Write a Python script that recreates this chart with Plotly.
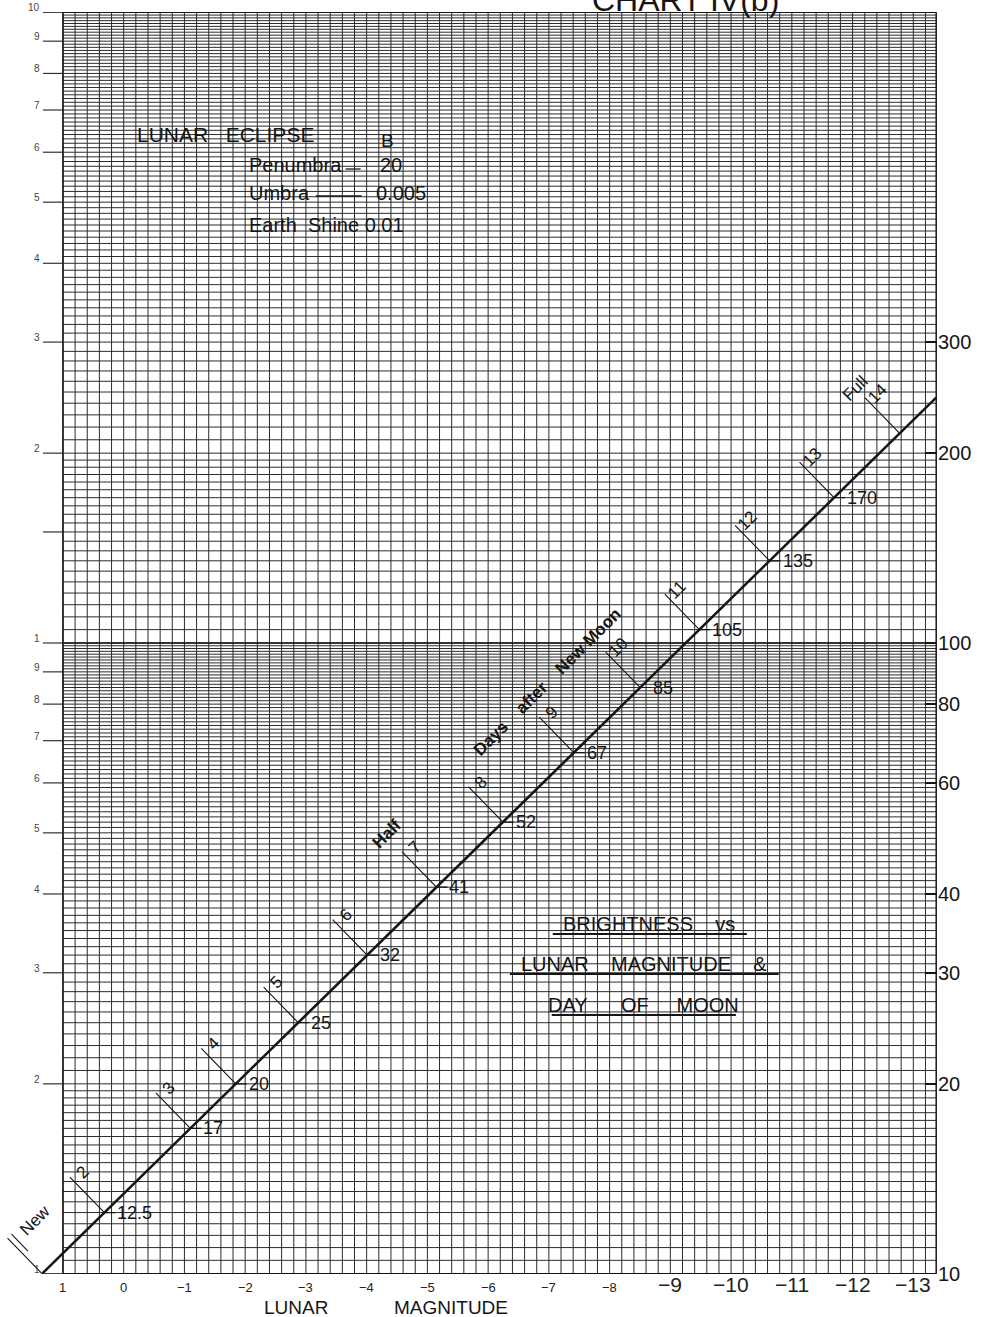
import numpy as np
import plotly.graph_objects as go

# ---------------- data ----------------
# straight brightness line: lunar magnitude vs brightness (log scale)
line_magnitude = [1.344, -13.377]
line_brightness = [10, 245]

# days after new moon and the brightness reached on each day
day_numbers = ["2", "3", "4", "5", "6", "7", "8", "9", "10", "11", "12", "13", "14"]
day_brightness = [12.5, 17, 20, 25, 32, 41, 52, 67, 85, 105, 135, 170, 215]
day_brightness_labels = ["12.5", "17", "20", "25", "32", "41", "52", "67", "85", "105", "135", "170", ""]
new_moon_brightness = 10

# right-hand brightness scale
right_tick_values = [10, 20, 30, 40, 60, 80, 100, 200, 300]
right_tick_text = ["10", "20", "30", "40", "60", "80", "100", "200", "300"]

# left-hand two-cycle log scale
left_tick_values = [1000, 900, 800, 700, 600, 500, 400, 300, 200, 150, 100,
                    90, 80, 70, 60, 50, 40, 30, 20, 10]
left_tick_text = ["10", "9", "8", "7", "6", "5", "4", "3", "2", "", "1",
                  "9", "8", "7", "6", "5", "4", "3", "2", "1"]

# lunar magnitude scale
mag_tick_values = [1, 0, -1, -2, -3, -4, -5, -6, -7, -8, -9, -10, -11, -12, -13]
mag_tick_text = ["1", "0", "\u22121", "\u22122", "\u22123", "\u22124", "\u22125", "\u22126",
                 "\u22127", "\u22128", "\u22129", "\u221210", "\u221211", "\u221212", "\u221213"]

# ---------------- geometry ----------------
W, H = 983, 1317
PL, PR, PT, PB = 42, 941, 12, 1274          # plot area in pixels
X_RANGE = [1.345, -13.39]
Y_RANGE = [0.9995, 3.0005]
GRID_LEFT, GRID_RIGHT = 1.0, -13.377
GRID_BOTTOM, GRID_TOP = 10, 1000

FONT = "Liberation Sans, Arial, Helvetica, sans-serif"
INK = "#151515"


def px(x):
    return (x - PL) / (PR - PL)


def py(y):
    return (PB - y) / (PB - PT)


lb0, lb1 = np.log10(line_brightness)


def mag_on_line(b):
    t = (np.log10(b) - lb0) / (lb1 - lb0)
    return line_magnitude[0] + t * (line_magnitude[1] - line_magnitude[0])


fig = go.Figure()

# ---------------- graph paper ----------------
h_lines = np.concatenate([np.arange(10, 20, 0.5), np.arange(20, 100, 1),
                          np.arange(100, 200, 5), np.arange(200, 1000, 10)])
v_lines = np.round(np.arange(GRID_LEFT, -13.3, -0.2), 2)

gx, gy = [], []
for v in h_lines:
    gx += [GRID_LEFT, GRID_RIGHT, None]
    gy += [v, v, None]
for m in v_lines:
    gx += [m, m, None]
    gy += [GRID_BOTTOM, GRID_TOP, None]
fig.add_trace(go.Scatter(x=gx, y=gy, mode="lines", line=dict(color="#2b2b2b", width=1),
                         hoverinfo="skip", showlegend=False))

# frame and the decade line
bx = [GRID_LEFT, GRID_LEFT, None, GRID_LEFT, GRID_RIGHT, None, GRID_RIGHT, GRID_RIGHT, None,
      GRID_LEFT, GRID_RIGHT, None, GRID_LEFT, GRID_RIGHT]
by = [GRID_BOTTOM, GRID_TOP, None, GRID_TOP, GRID_TOP, None, GRID_BOTTOM, GRID_TOP, None,
      GRID_BOTTOM, GRID_BOTTOM, None, 100, 100]
fig.add_trace(go.Scatter(x=bx, y=by, mode="lines", line=dict(color=INK, width=1.5),
                         hoverinfo="skip", showlegend=False))

# left scale tick strokes
lx, ly = [], []
for v in left_tick_values:
    lx += [1.33, GRID_LEFT, None]
    ly += [v, v, None]
fig.add_trace(go.Scatter(x=lx, y=ly, mode="lines", line=dict(color="#333", width=1.2),
                         hoverinfo="skip", showlegend=False))

# brightness line
fig.add_trace(go.Scatter(x=line_magnitude, y=line_brightness, mode="lines",
                         line=dict(color=INK, width=2.6), hoverinfo="skip", showlegend=False))

ann = []

# day marks: perpendicular stroke, day number and brightness value
TICK_AX, TICK_AY = -36, -37
for d, b, lab in zip(day_numbers, day_brightness, day_brightness_labels):
    m = mag_on_line(b)
    yl = float(np.log10(b))
    ann.append(dict(x=m, y=yl, xref="x", yref="y", text="", showarrow=True, arrowhead=0,
                    arrowwidth=1.1, arrowcolor=INK, ax=TICK_AX, ay=TICK_AY, standoff=0))
    ann.append(dict(x=m, y=yl, xref="x", yref="y", text=d, showarrow=False, textangle=-45,
                    xshift=TICK_AX + 14, yshift=-TICK_AY + 3,
                    font=dict(size=17, color=INK, family=FONT)))
    if lab:
        ann.append(dict(x=m, y=yl, xref="x", yref="y", text=lab, showarrow=True, arrowhead=0,
                        arrowwidth=1.2, arrowcolor=INK, ax=11, ay=0, xanchor="left",
                        standoff=0, font=dict(size=18, color=INK, family=FONT)))

# new moon: double stroke at the start of the line
m0 = mag_on_line(new_moon_brightness)
y0 = float(np.log10(new_moon_brightness))
ann.append(dict(x=m0, y=y0, xref="x", yref="y", text="", showarrow=True, arrowhead=0,
                arrowwidth=1.1, arrowcolor=INK, ax=TICK_AX, ay=TICK_AY, standoff=0))
ann.append(dict(x=m0, y=y0, xref="x", yref="y", text="", showarrow=True, arrowhead=0,
                arrowwidth=1.1, arrowcolor=INK, ax=TICK_AX, ay=TICK_AY, standoff=26,
                xshift=4, yshift=4))
ann.append(dict(x=m0, y=y0, xref="x", yref="y", text="New", showarrow=False, textangle=-45,
                xshift=-7, yshift=53, font=dict(size=17, color=INK, family=FONT)))

# free text on the chart
def label(text, x, y, size=20, angle=0, anchor="center", bold=False):
    if bold:
        text = "<b>" + text + "</b>"
    ann.append(dict(x=px(x), y=py(y), xref="paper", yref="paper", text=text, showarrow=False,
                    textangle=angle, xanchor=anchor, yanchor="middle",
                    font=dict(size=size, color=INK, family=FONT)))


NB = "\u00a0"
label("Full", 859, 389, size=17, angle=-45)
label("Half", 389, 834, size=17, angle=-45, bold=True)
label("Days" + NB * 4 + "after" + NB * 4 + "New Moon", 549, 682, size=17, angle=-45, bold=True)

label("LUNAR" + NB * 3 + "ECLIPSE", 135, 134, size=21, anchor="left")
label("B", 389, 141, size=19)
label("Penumbra", 248, 165, anchor="left")
label("20", 380, 165, anchor="left")
label("Umbra", 248, 193, anchor="left")
label("0.005", 375, 193, anchor="left")
label("Earth" + NB * 2 + "Shine 0.01", 248, 225, anchor="left")

label("BRIGHTNESS" + NB * 4 + "vs", 652, 924)
label("LUNAR" + NB * 4 + "MAGNITUDE" + NB * 4 + "&", 647, 964)
label("DAY" + NB * 6 + "OF" + NB * 5 + "MOON", 646, 1005)

label("LUNAR", 297, 1307, size=19)
label("MAGNITUDE", 453, 1307, size=19)
ann.append(dict(x=px(688), y=py(20), xref="paper", yref="paper", text="CHART IV(b)",
                showarrow=False, xanchor="center", yanchor="bottom",
                font=dict(size=32, color=INK, family=FONT)))

# magnitude scale labels (the bright end printed larger)
for v, t in zip(mag_tick_values, mag_tick_text):
    big = v <= -9
    ann.append(dict(x=v, y=0, xref="x", yref="paper", text=t, showarrow=False,
                    yanchor="top", yshift=3 if big else -4,
                    font=dict(size=21 if big else 13, color="#222", family=FONT)))

# left log-cycle labels sit on their tick strokes
for v, t in zip(left_tick_values, left_tick_text):
    if t:
        ann.append(dict(x=0, y=float(np.log10(v)), xref="paper", yref="y", text=t,
                        showarrow=False, xanchor="right", yanchor="bottom", yshift=-3,
                        font=dict(size=10, color="#444", family=FONT)))

shapes = []


def rule(x0, x1, y, width=2):
    shapes.append(dict(type="line", xref="paper", yref="paper", x0=px(x0), x1=px(x1),
                       y0=py(y), y1=py(y), line=dict(color=INK, width=width)))


rule(347, 362, 169, 1.3)
rule(317, 363, 196, 1.3)
rule(555, 750, 934)
rule(512, 782, 974)
rule(554, 739, 1015)

fig.update_layout(
    width=W, height=H,
    margin=dict(l=PL, r=W - PR, t=PT, b=H - PB),
    paper_bgcolor="white", plot_bgcolor="white",
    showlegend=False,
    annotations=ann, shapes=shapes,
    xaxis=dict(range=X_RANGE, showgrid=False, zeroline=False, showticklabels=False,
               ticks="", showline=False, fixedrange=True),
    yaxis=dict(type="log", range=Y_RANGE, side="right", showgrid=False, zeroline=False,
               showline=False, ticks="inside", ticklen=12, tickwidth=1.5, tickcolor=INK,
               tickvals=right_tick_values, ticktext=right_tick_text,
               tickfont=dict(size=20, color=INK, family=FONT), fixedrange=True),
)

fig.write_html("out.html")
